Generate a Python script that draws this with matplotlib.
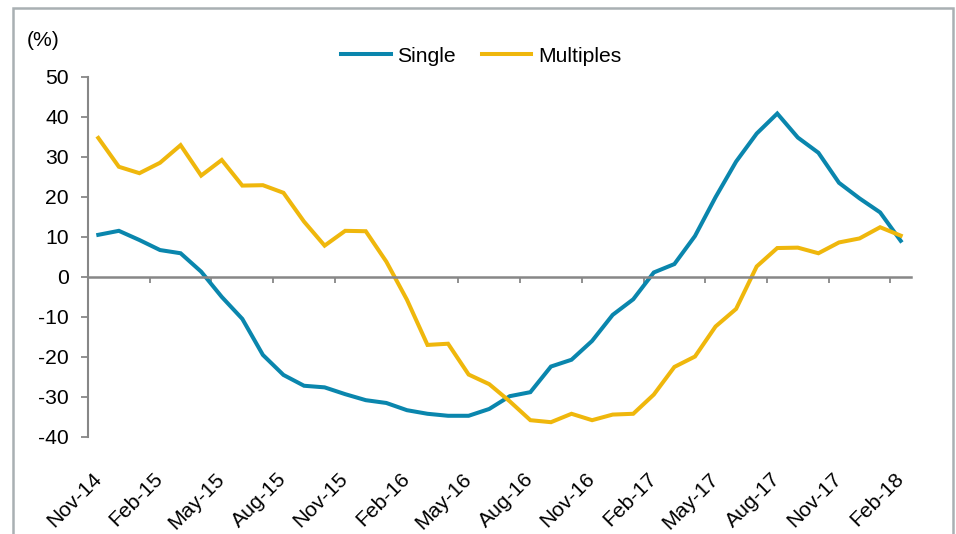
import numpy as np
import pandas as pd
import matplotlib
matplotlib.use('Agg')
import matplotlib.pyplot as plt
from matplotlib.patches import Rectangle

plt.rcParams['font.family'] = ['Liberation Sans', 'DejaVu Sans']
plt.rcParams['axes.unicode_minus'] = False

# monthly categories Nov-14 .. Feb-18
months = pd.date_range('2014-11-01', periods=40, freq='MS').strftime('%b-%y').tolist()

# yoy change (%)
single = [10.5, 11.5, 9.2, 6.7, 5.9, 1.3, -5.0, -10.5, -19.5, -24.5,
          -27.2, -27.6, -29.3, -30.8, -31.5, -33.3, -34.2, -34.7, -34.7, -33.0,
          -29.8, -28.8, -22.4, -20.7, -16.0, -9.5, -5.6, 1.1, 3.2, 10.2,
          19.9, 28.8, 35.8, 40.8, 34.8, 31.0, 23.5, 19.6, 16.1, 9.0]
multiples = [34.7, 27.5, 25.9, 28.5, 32.9, 25.3, 29.2, 22.8, 22.9, 21.0,
             13.8, 7.8, 11.5, 11.4, 3.8, -5.7, -17.0, -16.7, -24.4, -26.8,
             -31.1, -35.8, -36.3, -34.2, -35.8, -34.4, -34.2, -29.4, -22.5, -19.9,
             -12.4, -8.0, 2.6, 7.2, 7.3, 5.9, 8.6, 9.6, 12.4, 10.3]

blue = '#0a86ad'
yellow = '#efb70c'
grey = '#878787'
fs = 15.2

fig = plt.figure(figsize=(9.56, 5.34), dpi=100)
ax = fig.add_axes([88/956, 1-437/534, (911-88)/956, (437-76.7)/534])

x = np.arange(len(months))
ax.plot(x, single, color=blue, lw=2.9, label='Single', solid_joinstyle='miter')
ax.plot(x, multiples, color=yellow, lw=2.9, label='Multiples', solid_joinstyle='miter')

ax.set_xlim(-0.5, len(months) - 0.5)
ax.set_ylim(-40, 50)
ax.set_yticks(np.arange(-40, 51, 10))
ax.tick_params(axis='y', length=4.7, width=1.3, color=grey, pad=9, labelsize=fs)

for s in ['top', 'right']:
    ax.spines[s].set_visible(False)
ax.spines['left'].set_color(grey)
ax.spines['left'].set_linewidth(1.5)
ax.spines['bottom'].set_position(('data', 0))
ax.spines['bottom'].set_color(grey)
ax.spines['bottom'].set_linewidth(1.8)

# tick marks between categories on the zero line
ax.set_xticks([])
ax.set_xticks(np.arange(-0.5, len(months) - 1, 3), minor=True)
ax.tick_params(axis='x', which='minor', length=4.5, width=1.3, color=grey, direction='out')

# category labels along the bottom
sec = ax.secondary_xaxis(0)
sec.set_xticks(x[::3])
sec.set_xticklabels(months[::3], rotation=45, ha='right', va='center',
                    rotation_mode='anchor', fontsize=fs)
sec.tick_params(length=0, pad=28)
sec.spines['bottom'].set_visible(False)

ax.text(-0.054, 1.1, '(%)', transform=ax.transAxes, fontsize=fs, ha='center', va='center')

ax.legend(loc='center', bbox_to_anchor=(0.4775, 1.057), ncol=2, frameon=False,
          fontsize=fs, handlelength=2.35, handletextpad=0.3, columnspacing=1.25)

fig.patches.append(Rectangle((13/956, -0.1), (953-13)/956, 1.1 - 8/534,
                             transform=fig.transFigure, fill=False,
                             edgecolor='#a9b0b3', lw=1.8))

fig.savefig('out.png', dpi=100)
